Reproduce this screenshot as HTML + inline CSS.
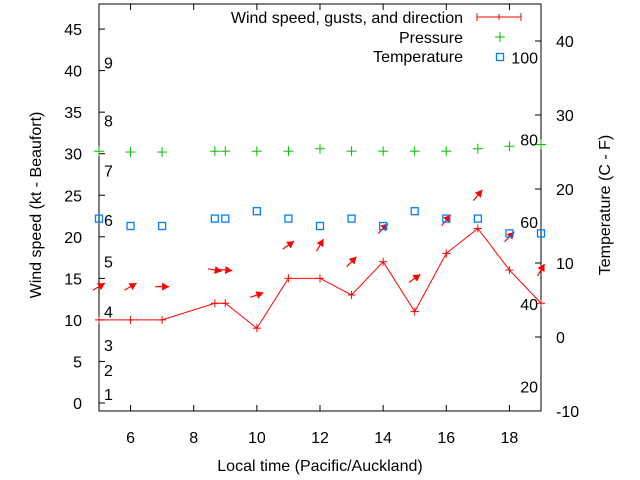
<!DOCTYPE html>
<html><head><meta charset="utf-8"><style>
html,body{margin:0;padding:0;background:#fff;}
svg{display:block;font-family:"Liberation Sans",sans-serif;}
</style></head><body>
<svg id="chart" width="640" height="480" viewBox="0 0 640 480">
<g id="axes"></g>
<g id="marks"></g>
<g id="legend">
  <text x="463" y="23" text-anchor="end" font-size="16">Wind speed, gusts, and direction</text>
  <g stroke="#f00" stroke-width="1"><line x1="477" y1="17" x2="521" y2="17"/><line x1="477" y1="13" x2="477" y2="21"/><line x1="521" y1="13" x2="521" y2="21"/><line x1="499" y1="14" x2="499" y2="20"/></g>
  <text x="463" y="43" text-anchor="end" font-size="16">Pressure</text>
  <g stroke="#00c000"><line x1="495" y1="37" x2="505" y2="37"/><line x1="500" y1="32" x2="500" y2="42"/></g>
  <text x="463" y="62" text-anchor="end" font-size="16">Temperature</text>
  <rect x="496.5" y="53.5" width="7" height="7" fill="none" stroke="#0080ff" stroke-width="1.3"/>
</g>
</svg>
<script>
const hours = [5, 6, 7, 8.67, 9, 10, 11, 12, 13, 14, 15, 16, 17, 18, 19];
const windKt = [10, 10, 10, 12, 12, 9, 15, 15, 13, 17, 11, 18, 21, 16, 12];
const gustKt = [14, 14, 14, 16, 16, 13, 19, 19, 17, 21, 15, 22, 25, 20, 16];
const dirDeg = [30, 30, 0, -10, -5, 20, 35, 60, 45, 45, 35, 50, 50, 45, 60];
const pressure = [30.3, 30.2, 30.2, 30.3, 30.3, 30.3, 30.3, 30.6, 30.3, 30.3, 30.3, 30.3, 30.6, 30.9, 31.1];
const tempC = [16, 15, 15, 16, 16, 17, 16, 15, 16, 15, 17, 16, 16, 14, 14];
const xTicks = [6, 8, 10, 12, 14, 16, 18];
const yTicks = [0, 5, 10, 15, 20, 25, 30, 35, 40, 45];
const y2Ticks = [-10, 0, 10, 20, 30, 40];
const beaufort = [[1,1.1],[2,4],[3,7],[4,11],[5,17],[6,22],[7,28],[8,34],[9,41]];
const fahrenheit = [20, 40, 60, 80, 100];

const L=99, R=541, T=4, B=411;
const X = h => L + (h-5)*(R-L)/14;
const Y = v => 403 - v*8.31;
const Y2 = c => B - (c+10)*(B-T)/55;
const NS='http://www.w3.org/2000/svg';
function mk(tag, attrs, parent, txt){const e=document.createElementNS(NS,tag);for(const k in attrs)e.setAttribute(k,attrs[k]);if(txt!==undefined)e.textContent=txt;parent.appendChild(e);return e;}
const ax=document.getElementById('axes'), mg=document.getElementById('marks');

let frame=mk('rect',{x:L,y:T,width:R-L,height:B-T,fill:'none',stroke:'#000','stroke-width':1},ax);


xTicks.forEach(t=>{
  mk('line',{x1:X(t),y1:B,x2:X(t),y2:B-6,stroke:'#000'},ax);
  mk('line',{x1:X(t),y1:T,x2:X(t),y2:T+6,stroke:'#000'},ax);
  const tx=mk('text',{x:X(t),y:443,'text-anchor':'middle','font-size':16},ax,String(t));
  
  
});
yTicks.forEach(t=>{
  mk('line',{x1:L,y1:Y(t),x2:L+6,y2:Y(t),stroke:'#000'},ax);
  const tx=mk('text',{x:82,y:Y(t)+6,'text-anchor':'end','font-size':16},ax,String(t));
  
  
});
y2Ticks.forEach(t=>{
  mk('line',{x1:R,y1:Y2(t),x2:R-6,y2:Y2(t),stroke:'#000'},ax);
  const tx=mk('text',{x:556,y:Y2(t)+6,'text-anchor':'start','font-size':16},ax,String(t));
  
  
});
beaufort.forEach(b=>{
  const tx=mk('text',{x:104,y:Y(b[1])+6,'font-size':16},ax,String(b[0]));
  
  
});
fahrenheit.forEach(f=>{
  const c=(f-32)*5/9;
  const tx=mk('text',{x:538,y:Y2(c)+6,'text-anchor':'end','font-size':16},ax,String(f));
  
  
});
let t1=mk('text',{x:0,y:0,'text-anchor':'middle','font-size':16,transform:'translate(41,205) rotate(-90)'},ax,'Wind speed (kt - Beaufort)');


let t2=mk('text',{x:0,y:0,'text-anchor':'middle','font-size':16,transform:'translate(610,205) rotate(-90)'},ax,'Temperature (C - F)');


let t3=mk('text',{x:320,y:471,'text-anchor':'middle','font-size':16},ax,'Local time (Pacific/Auckland)');



let pl=mk('polyline',{points:hours.map((h,i)=>X(h)+','+Y(windKt[i])).join(' '),fill:'none',stroke:'#f00','stroke-width':1},mg);


hours.forEach((h,i)=>{
  const g=mk('g',{stroke:'#f00'},mg);
  
  
  mk('line',{x1:X(h)-4,y1:Y(windKt[i]),x2:X(h)+4,y2:Y(windKt[i])},g);
  mk('line',{x1:X(h),y1:Y(windKt[i])-4,x2:X(h),y2:Y(windKt[i])+4},g);
  const a=dirDeg[i]*Math.PI/180, cx=X(h), cy=Y(gustKt[i]), len=7;
  const x1=cx-len*Math.cos(a), y1=cy+len*Math.sin(a), x2=cx+len*Math.cos(a), y2=cy-len*Math.sin(a);
  const ar=mk('g',{},mg);
  
  
  mk('line',{x1:x1,y1:y1,x2:x2,y2:y2,stroke:'#f00','stroke-width':1.2},ar);
  const hl=7, hw=4, bx=x2-hl*Math.cos(a), by=y2+hl*Math.sin(a);
  const px=Math.sin(a)*hw, py=Math.cos(a)*hw;
  mk('polygon',{points:`${x2},${y2} ${bx+px},${by+py} ${bx-px},${by-py}`,fill:'#f00'},ar);
  const pg=mk('g',{stroke:'#00c000'},mg);
  
  
  mk('line',{x1:X(h)-5,y1:Y(pressure[i]),x2:X(h)+5,y2:Y(pressure[i])},pg);
  mk('line',{x1:X(h),y1:Y(pressure[i])-5,x2:X(h),y2:Y(pressure[i])+5},pg);
  const r=mk('rect',{x:X(h)-3.5,y:Y2(tempC[i])-3.5,width:7,height:7,fill:'none',stroke:'#0080ff','stroke-width':1.3},mg);
  
  
});
</script>
</body></html>
